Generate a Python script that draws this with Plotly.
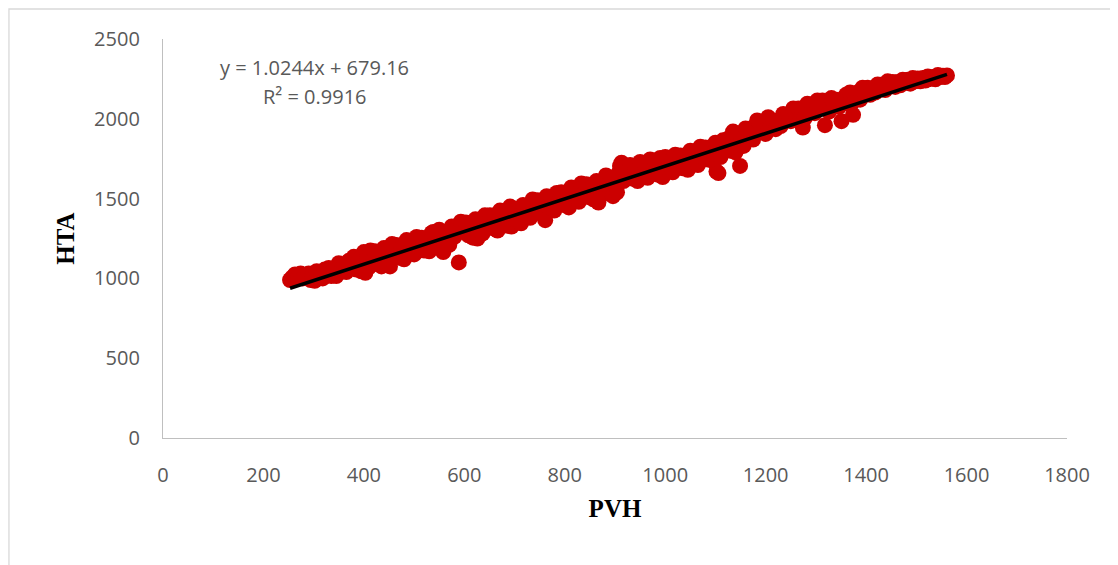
import plotly.graph_objects as go

# ---- data ----
pvh = [
    253, 257, 260, 263, 266, 270, 274, 278, 282, 286,
    290, 294, 298, 302, 306, 310, 314, 318, 322, 326,
    330, 335, 340, 345, 350, 355, 360, 365, 370, 375,
    380, 385, 390, 395, 400, 403, 406, 410, 413, 418,
    422, 426, 430, 435, 440, 445, 450, 452, 456, 460,
    465, 470, 475, 480, 485, 490, 495, 500, 505, 510,
    515, 520, 525, 530, 535, 538, 542, 546, 550, 555,
    558, 562, 566, 570, 575, 580, 585, 589, 593, 598,
    603, 608, 612, 617, 622, 626, 631, 636, 641, 646,
    651, 656, 661, 666, 671, 676, 681, 686, 691, 694,
    698, 703, 708, 713, 717, 721, 726, 731, 736, 741,
    746, 751, 756, 761, 764, 769, 774, 779, 784, 788,
    793, 798, 803, 808, 813, 818, 823, 828, 833, 838,
    843, 847, 852, 857, 863, 867, 872, 877, 882, 887,
    892, 896, 900, 904, 907, 910, 913, 917, 921, 925,
    930, 935, 940, 945, 950, 955, 960, 965, 970, 975,
    980, 985, 990, 995, 1000, 1005, 1010, 1015, 1020, 1025,
    1030, 1035, 1040, 1045, 1050, 1055, 1060, 1065, 1070, 1075,
    1080, 1085, 1090, 1095, 1100, 1102, 1106, 1110, 1115, 1120,
    1125, 1130, 1135, 1140, 1145, 1149, 1152, 1156, 1160, 1165,
    1170, 1175, 1180, 1183, 1187, 1192, 1196, 1200, 1205, 1210,
    1215, 1220, 1225, 1230, 1235, 1240, 1245, 1250, 1255, 1260,
    1265, 1270, 1274, 1278, 1283, 1288, 1293, 1298, 1303, 1308,
    1313, 1318, 1322, 1326, 1331, 1336, 1341, 1346, 1351, 1355,
    1360, 1365, 1368, 1372, 1374, 1378, 1383, 1388, 1393, 1398,
    1403, 1408, 1413, 1418, 1423, 1428, 1433, 1438, 1443, 1448,
    1453, 1458, 1463, 1468, 1473, 1478, 1483, 1488, 1493, 1498,
    1503, 1508, 1513, 1518, 1523, 1528, 1533, 1538, 1543, 1548,
    1553, 1557, 1561,
]
hta = [
    990, 1005, 995, 1025, 1000, 1015, 1030, 1000, 1020, 1005,
    1030, 990, 1020, 985, 1045, 1005, 1040, 1000, 1055, 1030,
    1065, 1015, 1055, 1015, 1095, 1050, 1080, 1040, 1110, 1075,
    1135, 1055, 1115, 1045, 1165, 1035, 1145, 1070, 1175, 1115,
    1170, 1090, 1145, 1075, 1190, 1120, 1180, 1075, 1215, 1150,
    1210, 1130, 1190, 1120, 1240, 1170, 1225, 1150, 1260, 1195,
    1255, 1175, 1235, 1170, 1285, 1290, 1265, 1195, 1305, 1245,
    1165, 1225, 1280, 1210, 1325, 1260, 1310, 1100, 1355, 1290,
    1350, 1270, 1325, 1255, 1370, 1250, 1350, 1280, 1395, 1335,
    1395, 1315, 1375, 1300, 1425, 1350, 1410, 1330, 1450, 1325,
    1440, 1360, 1420, 1345, 1460, 1395, 1455, 1380, 1495, 1430,
    1490, 1410, 1470, 1365, 1515, 1445, 1500, 1425, 1535, 1480,
    1540, 1460, 1515, 1445, 1570, 1500, 1555, 1480, 1595, 1530,
    1590, 1510, 1565, 1495, 1610, 1475, 1605, 1530, 1645, 1580,
    1625, 1515, 1590, 1540, 1660, 1705, 1725, 1610, 1690, 1640,
    1710, 1625, 1685, 1610, 1730, 1660, 1705, 1630, 1745, 1680,
    1735, 1650, 1755, 1635, 1760, 1690, 1735, 1665, 1775, 1710,
    1770, 1690, 1750, 1680, 1800, 1735, 1785, 1710, 1825, 1760,
    1820, 1745, 1800, 1735, 1850, 1670, 1660, 1760, 1865, 1815,
    1875, 1800, 1920, 1790, 1910, 1705, 1880, 1830, 1940, 1875,
    1940, 1870, 1930, 1990, 1980, 1940, 1965, 1905, 2010, 1950,
    1990, 1935, 1980, 1955, 2030, 1995, 2025, 1985, 2065, 2025,
    2065, 2005, 1945, 2005, 2095, 2040, 2090, 2035, 2115, 2070,
    2115, 1960, 2095, 2045, 2130, 2090, 2120, 2075, 1985, 2110,
    2150, 2095, 2165, 2100, 2025, 2130, 2165, 2120, 2195, 2160,
    2195, 2150, 2190, 2165, 2215, 2185, 2215, 2180, 2235, 2205,
    2230, 2200, 2230, 2210, 2245, 2225, 2245, 2220, 2255, 2235,
    2252, 2235, 2255, 2240, 2265, 2250, 2262, 2248, 2275, 2262,
    2270, 2262, 2272,
]

slope = 1.0244
intercept = 679.16
eq_text = "y = 1.0244x + 679.16"
r2_text = "R² = 0.9916"

x_ticks = [0, 200, 400, 600, 800, 1000, 1200, 1400, 1600, 1800]
y_ticks = [0, 500, 1000, 1500, 2000, 2500]

trend_x = [min(pvh), max(pvh)]
trend_y = [slope * v + intercept for v in trend_x]

label_font = dict(family="Open Sans, Lato, sans-serif", size=20, color="#595959")
title_font = dict(family="Liberation Serif, Times New Roman, serif", size=25, color="#000000")

fig = go.Figure()
fig.add_trace(go.Scatter(
    x=pvh, y=hta, mode="markers",
    marker=dict(color="#CC0000", size=16, line=dict(width=0)),
    showlegend=False, hoverinfo="x+y",
))
fig.add_trace(go.Scatter(
    x=trend_x, y=trend_y, mode="lines",
    line=dict(color="#000000", width=3.5),
    showlegend=False,
))

# the page body adds an 8px offset, so the figure is 8px smaller than the window
fig.update_layout(
    width=1110, height=557,
    margin=dict(l=155, r=51, t=31, b=127),
    paper_bgcolor="white", plot_bgcolor="white",
    xaxis=dict(
        range=[0, 1800], tickvals=x_ticks, showgrid=False, zeroline=False,
        showline=True, linecolor="#BFBFBF", linewidth=1.3,
        ticks="", tickfont=label_font, ticklabelstandoff=19,
        title=dict(text="<b>PVH</b>", font=title_font, standoff=12),
    ),
    yaxis=dict(
        range=[0, 2500], tickvals=y_ticks, showgrid=False, zeroline=False,
        showline=True, linecolor="#BFBFBF", linewidth=1.3,
        ticks="", tickfont=label_font, ticklabelstandoff=18,
        title=dict(text="<b>HTA</b>", font=title_font, standoff=12),
    ),
    annotations=[
        dict(x=302, y=2320, xref="x", yref="y", text=eq_text, showarrow=False,
             font=label_font, xanchor="center", yanchor="middle"),
        dict(x=302, y=2140, xref="x", yref="y", text=r2_text, showarrow=False,
             font=label_font, xanchor="center", yanchor="middle"),
    ],
    shapes=[
        dict(type="rect", xref="paper", yref="paper",
             x0=-0.1704, x1=1.07, y0=-0.36, y1=1.0752,
             line=dict(color="#D9D9D9", width=1.3), fillcolor="rgba(0,0,0,0)",
             layer="below"),
    ],
)

fig.write_html("out.html")
